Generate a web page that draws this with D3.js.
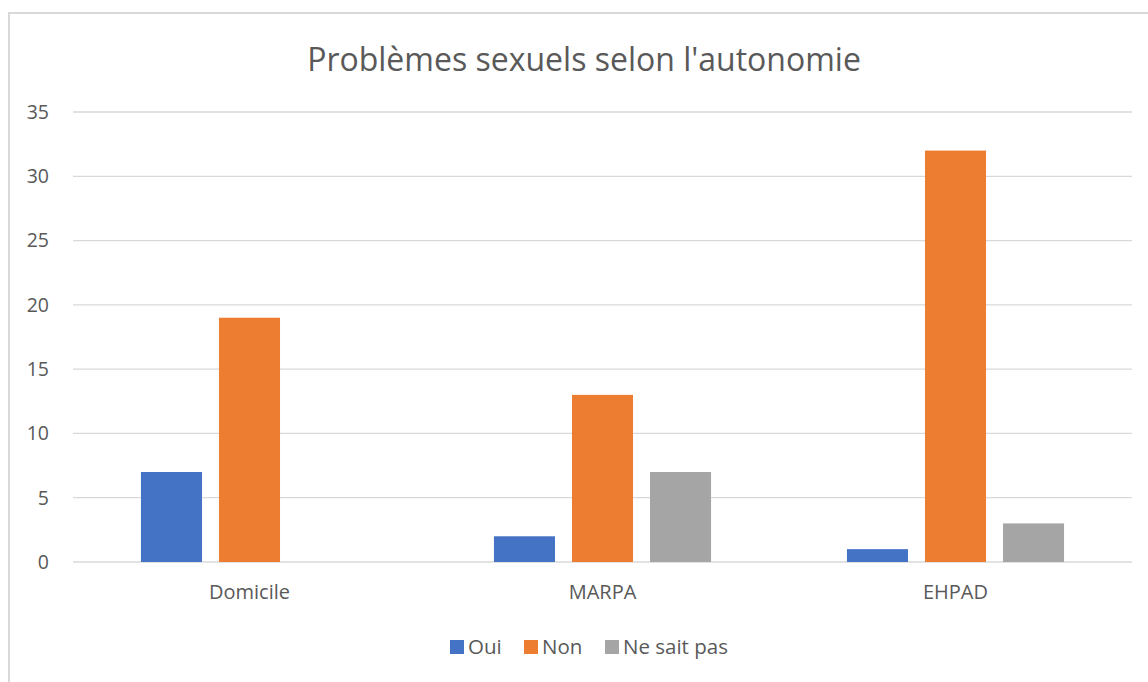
<!DOCTYPE html>
<html>
<head>
<meta charset="utf-8">
<script src="https://cdn.jsdelivr.net/npm/d3@7"></script>
<style>
  body { margin: 0; background: #fff; }
  svg text { font-family: "Open Sans", "Liberation Sans", sans-serif; fill: #595959; }
</style>
</head>
<body>
<div id="chart"></div>
<script>
// data
const categories = ["Domicile", "MARPA", "EHPAD"];
const series = ["Oui", "Non", "Ne sait pas"];
const oui = [7, 2, 1];
const non = [19, 13, 32];
const neSaitPas = [0, 7, 3];
const yTicks = [0, 5, 10, 15, 20, 25, 30, 35];
const colors = ["#4472C4", "#ED7D31", "#A5A5A5"];

const W = 1148, H = 682;
const plot = {left: 73, right: 1132, top: 112, bottom: 562};

const svg = d3.select("#chart").append("svg")
  .attr("width", W).attr("height", H);

// chart frame (cut by the window on right/bottom)
svg.append("rect")
  .attr("x", 9).attr("y", 13)
  .attr("width", 1160).attr("height", 700)
  .attr("fill", "#fff").attr("stroke", "#d9d9d9").attr("stroke-width", 2);

svg.append("text")
  .attr("x", 584).attr("y", 71)
  .attr("text-anchor", "middle")
  .style("font-size", "32px")
  .text("Problèmes sexuels selon l'autonomie");

const y = d3.scaleLinear().domain([0, 35]).range([plot.bottom, plot.top]);
const x0 = d3.scaleBand().domain(categories).range([plot.left, plot.right]).paddingInner(0.385).paddingOuter(0.1925);
const x1 = d3.scaleBand().domain(series).range([0, x0.bandwidth()]).paddingInner(0.218);

// gridlines
svg.append("g").selectAll("line").data(yTicks).join("line")
  .attr("x1", plot.left).attr("x2", plot.right)
  .attr("y1", d => y(d)).attr("y2", d => y(d))
  .attr("stroke", "#d9d9d9").attr("stroke-width", 1.3);

// y labels
svg.append("g").selectAll("text").data(yTicks).join("text")
  .attr("x", 49).attr("y", d => y(d))
  .attr("dy", "0.35em")
  .attr("text-anchor", "end")
  .style("font-size", "19.5px")
  .text(d => d);

const table = categories.map((c, i) => ({cat: c, vals: [oui[i], non[i], neSaitPas[i]]}));

const groups = svg.append("g").selectAll("g").data(table).join("g")
  .attr("transform", d => `translate(${x0(d.cat)},0)`);

groups.selectAll("rect").data(d => d.vals.map((v, j) => ({s: series[j], v: v, j: j})))
  .join("rect")
  .attr("x", d => x1(d.s))
  .attr("width", x1.bandwidth())
  .attr("y", d => y(d.v))
  .attr("height", d => y(0) - y(d.v))
  .attr("fill", d => colors[d.j]);

// category labels
svg.append("g").selectAll("text").data(categories).join("text")
  .attr("x", d => x0(d) + x0.bandwidth() / 2)
  .attr("y", 599)
  .attr("text-anchor", "middle")
  .style("font-size", "20px")
  .text(d => d);

// legend
const legendX = [450, 524, 605];
const legend = svg.append("g").selectAll("g").data(series).join("g")
  .attr("transform", (d, i) => `translate(${legendX[i]},640)`);
legend.append("rect")
  .attr("width", 14).attr("height", 14)
  .attr("fill", (d, i) => colors[i]);
legend.append("text")
  .attr("x", 18).attr("y", 7).attr("dy", "0.36em")
  .style("font-size", "20.5px")
  .text(d => d);
</script>
</body>
</html>
